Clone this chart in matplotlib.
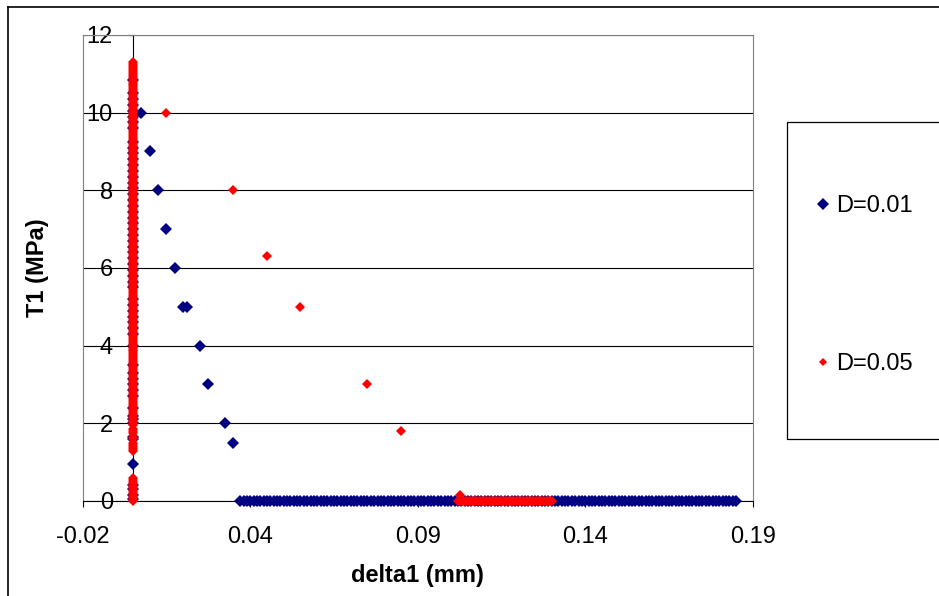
import numpy as np
import matplotlib
matplotlib.use("Agg")
from matplotlib import pyplot as plt
from matplotlib.lines import Line2D
from matplotlib.patches import Rectangle

plt.rcParams['font.family'] = 'Liberation Sans'

# D=0.01 series (delta1 in mm, T1 in MPa)
# points stacked at delta1 = 0
d01_col_y = [0.05, 0.15, 0.3, 0.4, 0.95, 1.6, 1.65, 2.0, 2.1, 2.2, 2.4, 2.7, 2.85, 3.0,
             3.15, 3.3, 3.5, 4.0, 4.3, 4.45, 4.6, 4.75, 4.9, 5.05, 5.2, 5.5, 5.65, 5.8,
             5.95, 6.1, 6.25, 6.4, 6.55, 6.7, 6.85, 7.0, 7.15, 7.3, 7.45, 7.6, 7.75, 7.9,
             8.05, 8.2, 8.35, 8.5, 8.65, 8.8, 8.95, 9.1, 9.25, 9.6, 9.75, 9.9, 10.05,
             10.2, 10.35, 10.5, 10.85]
d01_mid_x = [0.0025, 0.005, 0.0075, 0.01, 0.0125, 0.015, 0.016, 0.02, 0.0225, 0.0275, 0.03]
d01_mid_y = [10, 9, 8, 7, 6, 5, 5, 4, 3, 2, 1.5]
# points lying at T1 = 0
d01_flat_x = [0.032, 0.033, 0.034, 0.035, 0.036, 0.037, 0.038, 0.039, 0.040, 0.041,
              0.042, 0.043, 0.044, 0.045, 0.046, 0.047, 0.048, 0.049, 0.050, 0.051,
              0.052, 0.053, 0.054, 0.055, 0.056, 0.057, 0.058, 0.059, 0.060, 0.061,
              0.062, 0.063, 0.064, 0.065, 0.066, 0.067, 0.068, 0.069, 0.070, 0.071,
              0.072, 0.073, 0.074, 0.075, 0.076, 0.077, 0.078, 0.079, 0.080, 0.081,
              0.082, 0.083, 0.084, 0.085, 0.086, 0.087, 0.088, 0.089, 0.090, 0.091,
              0.092, 0.093, 0.094, 0.095, 0.096, 0.097, 0.098, 0.099, 0.100, 0.101,
              0.102, 0.103, 0.104, 0.105, 0.106, 0.107, 0.108, 0.109, 0.110, 0.111,
              0.112, 0.113, 0.114, 0.115, 0.116, 0.117, 0.118, 0.119, 0.120, 0.121,
              0.122, 0.123, 0.124, 0.125, 0.126, 0.127, 0.128, 0.129, 0.130, 0.131,
              0.132, 0.133, 0.134, 0.135, 0.136, 0.137, 0.138, 0.139, 0.140, 0.141,
              0.142, 0.143, 0.144, 0.145, 0.146, 0.147, 0.148, 0.149, 0.150, 0.151,
              0.152, 0.153, 0.154, 0.155, 0.156, 0.157, 0.158, 0.159, 0.160, 0.161,
              0.162, 0.163, 0.164, 0.165, 0.166, 0.167, 0.168, 0.169, 0.170, 0.171,
              0.172, 0.173, 0.174, 0.175, 0.176, 0.177, 0.178, 0.179, 0.180]

# D=0.05 series
d05_col_y = [0.0, 0.05, 0.1, 0.15, 0.2, 0.25, 0.3, 0.35, 0.4, 0.45, 0.5, 0.55, 0.6,
             1.3, 1.35, 1.4, 1.45, 1.5, 1.6, 1.65, 1.75, 1.8, 1.85,
             1.95, 2.0, 2.05, 2.1, 2.15, 2.2, 2.25, 2.3, 2.35, 2.4, 2.45,
             2.5, 2.55, 2.6, 2.65, 2.7, 2.75, 2.8, 2.85, 2.9, 2.95,
             3.0, 3.05, 3.1, 3.15, 3.2, 3.25, 3.3, 3.35, 3.4, 3.45,
             3.5, 3.55, 3.6, 3.65, 3.7, 3.75, 3.8, 3.85, 3.9, 3.95,
             4.0, 4.05, 4.1, 4.15, 4.2, 4.25, 4.3, 4.35, 4.4, 4.45,
             4.5, 4.55, 4.6, 4.65, 4.7, 4.75, 4.8, 4.85, 4.9, 4.95,
             5.0, 5.05, 5.1, 5.15, 5.2, 5.25, 5.3, 5.35, 5.4, 5.45,
             5.5, 5.55, 5.6, 5.65, 5.7, 5.75, 5.8, 5.85, 5.9, 5.95,
             6.0, 6.05, 6.1, 6.15, 6.2, 6.25, 6.3, 6.35, 6.4, 6.45,
             6.5, 6.55, 6.6, 6.65, 6.7, 6.75, 6.8, 6.85, 6.9, 6.95,
             7.0, 7.05, 7.1, 7.15, 7.2, 7.25, 7.3, 7.35, 7.4, 7.45,
             7.5, 7.55, 7.6, 7.65, 7.7, 7.75, 7.8, 7.85, 7.9, 7.95,
             8.0, 8.05, 8.1, 8.15, 8.2, 8.25, 8.3, 8.35, 8.4, 8.45,
             8.5, 8.55, 8.6, 8.65, 8.7, 8.75, 8.8, 8.85, 8.9, 8.95,
             9.0, 9.05, 9.1, 9.15, 9.2, 9.25, 9.3, 9.35, 9.4, 9.45,
             9.5, 9.55, 9.6, 9.65, 9.7, 9.75, 9.8, 9.85, 9.9, 9.95,
             10.0, 10.05, 10.1, 10.15, 10.2, 10.25, 10.3, 10.35, 10.4, 10.45,
             10.5, 10.55, 10.6, 10.65, 10.7, 10.75, 10.8, 10.85, 10.9, 10.95,
             11.0, 11.05, 11.1, 11.15, 11.2, 11.25, 11.3]
d05_mid_x = [0.01, 0.03, 0.04, 0.05, 0.07, 0.08, 0.0975]
d05_mid_y = [10, 8, 6.3, 5, 3, 1.8, 0.15]
d05_flat_x = [0.097, 0.0975, 0.098, 0.0985, 0.099, 0.0995, 0.100, 0.1005, 0.101, 0.1015,
              0.102, 0.1025, 0.103, 0.1035, 0.104, 0.1045, 0.105, 0.1055, 0.106, 0.1065,
              0.107, 0.1075, 0.108, 0.1085, 0.109, 0.1095, 0.110, 0.1105, 0.111, 0.1115,
              0.112, 0.1125, 0.113, 0.1135, 0.114, 0.1145, 0.115, 0.1155, 0.116, 0.1165,
              0.117, 0.1175, 0.118, 0.1185, 0.119, 0.1195, 0.120, 0.1205, 0.121, 0.1215,
              0.122, 0.1225, 0.123, 0.1235, 0.124, 0.1245, 0.125]

xticks = [-0.015, 0.035, 0.085, 0.135, 0.185]
xtick_labels = ["-0.02", "0.04", "0.09", "0.14", "0.19"]
yticks = [0, 2, 4, 6, 8, 10, 12]

d01_x = np.concatenate([np.zeros(len(d01_col_y)), d01_mid_x, d01_flat_x])
d01_y = np.concatenate([d01_col_y, d01_mid_y, np.zeros(len(d01_flat_x))])
d05_x = np.concatenate([np.zeros(len(d05_col_y)), d05_mid_x, d05_flat_x])
d05_y = np.concatenate([d05_col_y, d05_mid_y, np.zeros(len(d05_flat_x))])

fig = plt.figure(figsize=(9.39, 5.96), dpi=100)
ax = fig.add_axes([0.0881, 0.1594, 0.7135, 0.7819])

ax.plot(d01_x, d01_y, linestyle='none', marker='D', markersize=6.6,
        color='#000080', markeredgewidth=0, label='D=0.01', zorder=3, clip_on=False)
ax.plot(d05_x, d05_y, linestyle='none', marker='D', markersize=4.8,
        color='#FF0000', markeredgewidth=0, label='D=0.05', zorder=4, clip_on=False)

ax.set_xlim(-0.015, 0.185)
ax.set_ylim(0, 12)
ax.set_xticks(xticks)
ax.set_xticklabels(xtick_labels)
ax.set_yticks(yticks)
ax.set_yticklabels([str(v) for v in yticks])

ax.yaxis.grid(True, color='black', linewidth=0.8)
ax.set_axisbelow(True)

ax.spines['left'].set_position(('data', 0))
ax.spines['left'].set_color('black')
ax.spines['left'].set_linewidth(0.8)
ax.spines['bottom'].set_color('black')
ax.spines['bottom'].set_linewidth(0.8)
for s in ['top', 'right']:
    ax.spines[s].set_color('#808080')
    ax.spines[s].set_linewidth(0.8)
ax.axvline(-0.015, color='#808080', linewidth=0.8, clip_on=False)

ax.tick_params(axis='x', direction='out', length=4.3, width=0.8, pad=14, labelsize=17)
ax.tick_params(axis='y', direction='out', length=3.6, width=0.8, pad=10.8, labelsize=17)

ax.set_xlabel('delta1 (mm)', fontsize=17, fontweight='bold')
ax.set_ylabel('T1 (MPa)', fontsize=17, fontweight='bold')
ax.xaxis.set_label_coords(0.5, -0.136)
ax.yaxis.set_label_coords(-0.05, 0.5)

# legend box (runs off the right edge like the original)
fig.add_artist(Rectangle((0.8378, 0.2629), 0.3, 0.5319, transform=fig.transFigure,
                         facecolor='white', edgecolor='black', linewidth=0.9, zorder=-1))
ax.legend(loc='center left', bbox_to_anchor=(803.0 / 939, 0.5218),
          bbox_transform=fig.transFigure, frameon=False, fontsize=17,
          borderpad=0, handlelength=0.7, handletextpad=0.2, labelspacing=5.75,
          markerscale=0.9)

# outer chart border
fig.add_artist(Line2D([0.0085, 1.0], [0.9883, 0.9883], transform=fig.transFigure,
                      color='black', linewidth=1.2))
fig.add_artist(Line2D([0.0085, 0.0085], [0.0, 0.9883], transform=fig.transFigure,
                      color='black', linewidth=1.2))

fig.savefig('out.png', dpi=100)
